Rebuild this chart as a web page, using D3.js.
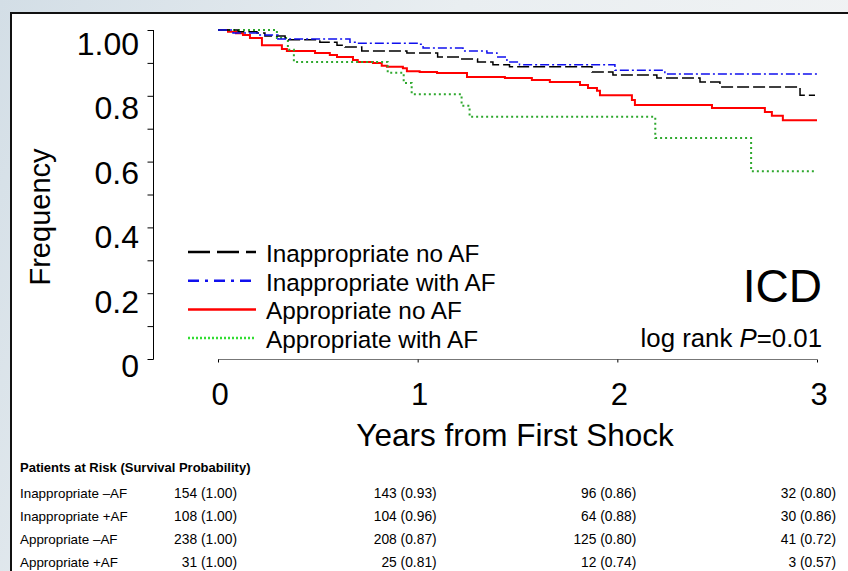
<!DOCTYPE html>
<html>
<head>
<meta charset="utf-8">
<script src="https://cdn.jsdelivr.net/npm/d3@7"></script>
<style>
  html, body { margin: 0; padding: 0; background: #fff; }
  svg { display: block; }
  text { font-family: "Liberation Sans", Arial, sans-serif; fill: #000; }
  .narrow { font-family: "Liberation Sans Narrow", "Arial Narrow", "Liberation Sans", sans-serif; }
</style>
</head>
<body>
<svg id="chart" width="848" height="571"></svg>
<script>
// data: step points [years, survival]
var inapp_noAF = [[0,1],[0.10,0.995],[0.195,0.991],[0.235,0.982],[0.336,0.976],[0.35,0.97],[0.51,0.963],[0.596,0.954],[0.636,0.948],[0.72,0.936],[0.946,0.93],[1.10,0.918],[1.21,0.912],[1.30,0.903],[1.377,0.894],[1.46,0.888],[1.873,0.872],[1.978,0.863],[2.198,0.854],[2.414,0.842],[2.514,0.827],[2.915,0.802],[2.99,0.802]];
var inapp_AF = [[0,1],[0.075,0.991],[0.20,0.985],[0.30,0.973],[0.661,0.963],[0.696,0.96],[1.01,0.957],[1.027,0.945],[1.227,0.936],[1.347,0.93],[1.397,0.918],[1.447,0.903],[1.51,0.894],[1.988,0.878],[2.238,0.866],[3.0,0.866]];
var app_noAF = [[0,1],[0.05,0.995],[0.09,0.99],[0.125,0.985],[0.16,0.976],[0.22,0.954],[0.32,0.942],[0.345,0.936],[0.486,0.93],[0.56,0.924],[0.596,0.918],[0.676,0.909],[0.70,0.903],[0.776,0.90],[0.82,0.891],[0.846,0.888],[0.926,0.884],[0.946,0.875],[1.01,0.872],[1.097,0.869],[1.247,0.857],[1.437,0.854],[1.572,0.848],[1.662,0.842],[1.813,0.833],[1.853,0.824],[1.898,0.815],[1.913,0.802],[2.073,0.787],[2.088,0.772],[2.474,0.763],[2.739,0.751],[2.774,0.739],[2.829,0.726],[3.0,0.726]];
var app_AF = [[0,1],[0.295,0.976],[0.35,0.94],[0.38,0.903],[0.85,0.87],[0.93,0.839],[0.97,0.805],[1.22,0.77],[1.26,0.736],[2.19,0.672],[2.67,0.571],[2.99,0.571]];

var legendNames = ["Inappropriate no AF","Inappropriate with AF","Appropriate no AF","Appropriate with AF"];
var yTicks = [0,0.1,0.2,0.3,0.4,0.5,0.6,0.7,0.8,0.9,1.0];
var yLabels = [0,0.2,0.4,0.6,0.8,1.0];
var xTicks = [0,1,2,3];

// risk table
var riskTitle = "Patients at Risk (Survival Probability)";
var riskRows = ["Inappropriate \u2013AF","Inappropriate +AF","Appropriate \u2013AF","Appropriate +AF"];
var riskAt = [
  ["154 (1.00)","143 (0.93)","96 (0.86)","32 (0.80)"],
  ["108 (1.00)","104 (0.96)","64 (0.88)","30 (0.86)"],
  ["238 (1.00)","208 (0.87)","125 (0.80)","41 (0.72)"],
  ["31 (1.00)","25 (0.81)","12 (0.74)","3 (0.57)"]
];

var svg = d3.select("#chart");

// background + frame
var defs = svg.append("defs");
var grad = defs.append("linearGradient").attr("id","bg").attr("x1","0").attr("x2","1").attr("y1","0").attr("y2","0.3");
grad.append("stop").attr("offset","0").attr("stop-color","#d3dee6");
grad.append("stop").attr("offset","0.5").attr("stop-color","#e9eef1");
grad.append("stop").attr("offset","1").attr("stop-color","#f1f3f4");
svg.append("rect").attr("width",848).attr("height",571).attr("fill","url(#bg)");
svg.append("rect").attr("x",11).attr("y",13).attr("width",850).attr("height",570)
  .attr("fill","#fff").attr("stroke","#111").attr("stroke-width",2);

var x = d3.scaleLinear().domain([0,3]).range([218,817]);
var y = d3.scaleLinear().domain([0,1]).range([359,30]);
// tick labels sit a bit lower than their ticks in the original
var yLab = d3.scaleLinear().domain([0,1]).range([377,55]);

// y axis
var gy = svg.append("g").attr("transform","translate(153.5,0)")
  .call(d3.axisLeft(y).tickValues(yTicks).tickSize(6).tickFormat(""));
gy.select(".domain").attr("stroke","#000").attr("d","M0,"+y(1)+"V"+(y(0)+0.5));
gy.selectAll(".tick line").attr("stroke","#000");

svg.selectAll(".ylab").data(yLabels).enter().append("text")
  .attr("class","ylab").attr("x",139).attr("y",function(d){return yLab(d);})
  .attr("text-anchor","end").style("font-size","32px")
  .text(function(d){return d===0 ? "0" : (d===1 ? "1.00" : d3.format(".1f")(d));});

// x axis
var gx = svg.append("g").attr("transform","translate(0,359.5)")
  .call(d3.axisBottom(x).tickValues(xTicks).tickSize(3).tickFormat(""));
gx.select(".domain").attr("stroke","#777").attr("d","M"+x(0)+",0H"+x(3));
gx.selectAll(".tick line").attr("stroke","#000");

svg.selectAll(".xlab").data(xTicks).enter().append("text")
  .attr("class","xlab").attr("x",function(d){return x(d)+2;}).attr("y",405)
  .attr("text-anchor","middle").style("font-size","31px")
  .text(function(d){return d;});

svg.append("text").attr("x",515).attr("y",446).attr("text-anchor","middle")
  .style("font-size","31.5px").text("Years from First Shock");
svg.append("text").attr("transform","translate(50,217) rotate(-90)").attr("text-anchor","middle")
  .style("font-size","29px").text("Frequency");

// curves
var series = [
  {data: inapp_noAF, color:"#000", width:1.5, dash:"12,4", ldash:"22,7", lwidth:2.5},
  {data: inapp_AF, color:"#1010ee", width:1.5, dash:"9,3,2,3", ldash:"11,6,3,6", lwidth:2.5},
  {data: app_noAF, color:"#ff0000", width:2, dash:null, ldash:null, lwidth:2.5},
  {data: app_AF, color:"#2ea82e", width:2, dash:"2,3", ldash:"2,2", lwidth:2.5}
];
var line = d3.line().curve(d3.curveStepAfter)
  .x(function(d){return x(d[0]);}).y(function(d){return y(d[1]);});

// draw red first so the others sit above like the original
[2,3,0,1].forEach(function(i){
  var s = series[i];
  svg.append("path").attr("d",line(s.data)).attr("fill","none")
    .attr("stroke",s.color).attr("stroke-width",s.width)
    .attr("stroke-dasharray",s.dash);
});

// legend
var lg = svg.append("g");
legendNames.forEach(function(n,i){
  var s = series[i];
  var by = 262 + i*28.7;
  lg.append("line").attr("x1",188).attr("x2",256).attr("y1",by-10).attr("y2",by-10)
    .attr("stroke", i===3 ? "#33dd33" : s.color).attr("stroke-width",s.lwidth)
    .attr("stroke-dasharray",s.ldash);
  lg.append("text").attr("x",266).attr("y",by).style("font-size","24.3px").text(n);
});

svg.append("text").attr("x",822).attr("y",302).attr("text-anchor","end")
  .style("font-size","46px").text("ICD");
var lr = svg.append("text").attr("x",822).attr("y",347).attr("text-anchor","end").style("font-size","25.8px");
lr.append("tspan").text("log rank ");
lr.append("tspan").style("font-style","italic").text("P");
lr.append("tspan").text("=0.01");

// patients at risk table
svg.append("text").attr("class","narrow").attr("x",20).attr("y",472)
  .style("font-size","13px").style("font-weight","bold").text(riskTitle);
riskRows.forEach(function(r,i){
  var by = 498 + i*23;
  svg.append("text").attr("class","narrow").attr("x",20).attr("y",by)
    .style("font-size","13.4px").text(r);
  riskAt[i].forEach(function(v,j){
    svg.append("text").attr("class","narrow").attr("x",x(xTicks[j])+19).attr("y",by)
      .attr("text-anchor","end").style("font-size","13.8px").text(v);
  });
});
</script>
</body>
</html>
